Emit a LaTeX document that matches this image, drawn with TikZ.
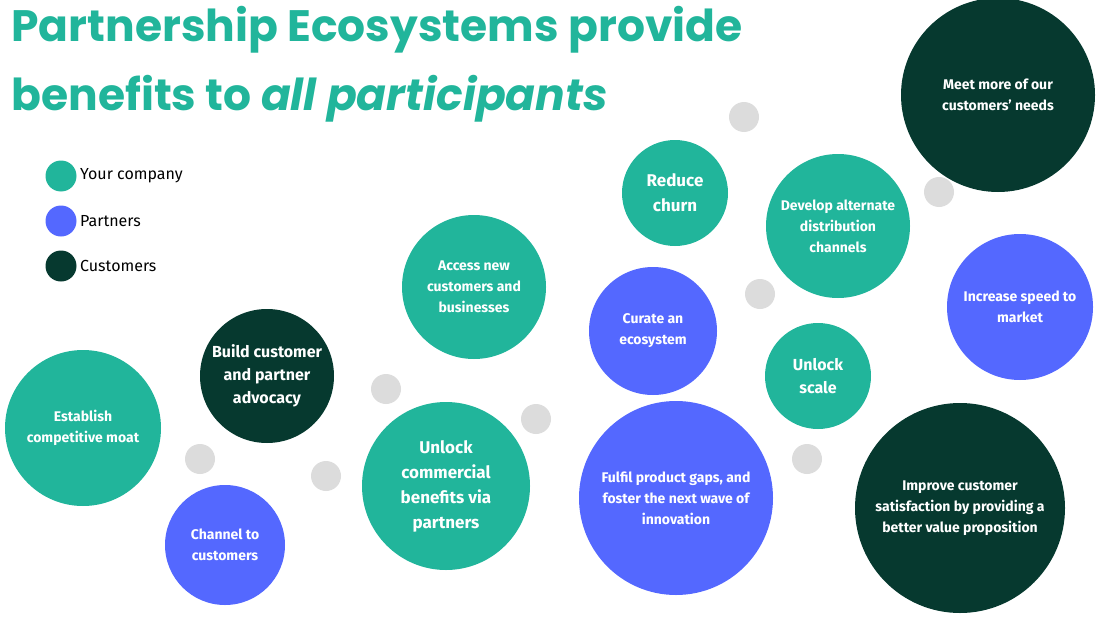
\documentclass[tikz,border=0pt]{standalone}
\usepackage{fontspec}
\setmainfont{Fira Sans}
\newfontfamily\titlefont{Poppins}
\definecolor{teal}{HTML}{21B59B}
\definecolor{blu}{HTML}{5468FF}
\definecolor{dark}{HTML}{06392F}
\definecolor{dot}{HTML}{DCDCDC}
\begin{document}
\begin{tikzpicture}[x=1pt,y=-1pt,
  bub/.style={circle,inner sep=0pt,text=white,align=center,font=\bfseries\fontsize{14}{21}\selectfont},
  you/.style={bub,fill=teal},
  par/.style={bub,fill=blu},
  cus/.style={bub,fill=dark},
  gap/.style={circle,fill=dot,minimum size=30pt,inner sep=0pt},
  key/.style={circle,minimum size=31pt,inner sep=0pt}]
\useasboundingbox (0,0) rectangle (1100,618);

% title
\node (title) at (8,30)[anchor=west,text=teal,font=\titlefont\bfseries\fontsize{44}{50}\selectfont] {Partnership Ecosystems provide};
\node (title2) at (8,99)[anchor=west,text=teal,font=\titlefont\bfseries\fontsize{44}{50}\selectfont] {benefits to \itshape all participants};

% legend
\node (k1) at (61,176)[key,fill=teal] {};
\node (k2) at (61,221)[key,fill=blu] {};
\node (k3) at (61,266)[key,fill=dark] {};
\node at (k1.east)[anchor=west,font=\fontsize{16}{18}\selectfont] {Your company};
\node at (k2.east)[anchor=west,font=\fontsize{16}{18}\selectfont] {Partners};
\node at (k3.east)[anchor=west,font=\fontsize{16}{18}\selectfont] {Customers};

% bubbles
\node (moat) at (83,428)[you,minimum size=156pt] {Establish\\competitive moat};
\node (chan) at (225,545)[par,minimum size=120pt] {Channel to\\customers};
\node (advo) at (267,376)[cus,minimum size=134pt,font=\bfseries\fontsize{16}{23}\selectfont] {Build customer\\and partner\\advocacy};
\node (acc) at (474,287)[you,minimum size=144pt] {Access new\\customers and\\businesses};
\node (comm) at (446,486)[you,minimum size=168pt,font=\bfseries\fontsize{17}{25}\selectfont] {Unlock\\commercial\\benefits via\\partners};
\node (cur) at (653,331)[par,minimum size=128pt] {Curate an\\ecosystem};
\node (churn) at (675,193)[you,minimum size=106pt,font=\bfseries\fontsize{17}{25}\selectfont] {Reduce\\churn};
\node (gaps) at (676,498)[par,minimum size=194pt] {Fulfil product gaps, and\\foster the next wave of\\innovation};
\node (dist) at (838,226)[you,minimum size=144pt] {Develop alternate\\distribution\\channels};
\node (scale) at (818,376)[you,minimum size=106pt,font=\bfseries\fontsize{16}{23}\selectfont] {Unlock\\scale};
\node (needs) at (998,95)[cus,minimum size=194pt] {Meet more of our\\customers' needs};
\node (speed) at (1020,307)[par,minimum size=146pt] {Increase speed to\\market};
\node (sat) at (960,508)[cus,minimum size=210pt] {Improve customer\\satisfaction by providing a\\better value proposition};

% grey dots
\foreach \x/\y in {200/459,326/476,386/389,536/419,744/117,760/294,807/459,939/192}
  \node at (\x,\y)[gap] {};
\end{tikzpicture}
\end{document}
